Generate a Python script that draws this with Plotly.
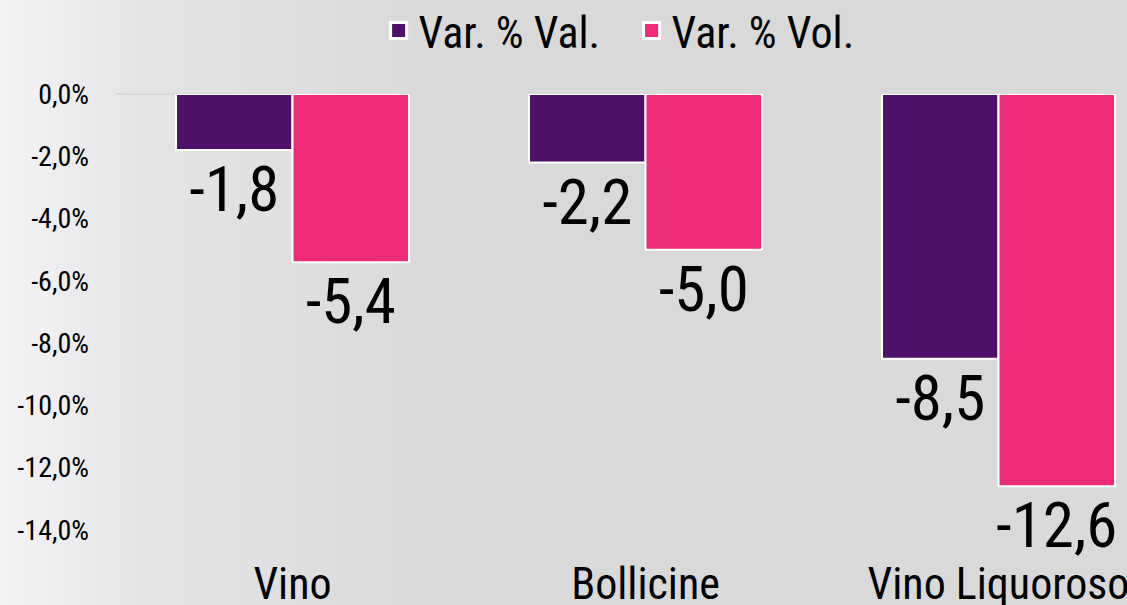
import base64
import plotly.graph_objects as go

# data
categories = ["Vino", "Bollicine", "Vino Liquoroso"]
var_val = [-1.8, -2.2, -8.5]
var_vol = [-5.4, -5.0, -12.6]
series_names = ["Var. % Val.", "Var. % Vol."]
y_tick_vals = [0, -2, -4, -6, -8, -10, -12, -14]
y_tick_text = ["0,0%", "-2,0%", "-4,0%", "-6,0%", "-8,0%", "-10,0%", "-12,0%", "-14,0%"]

PURPLE = "#4E106A"
PINK = "#EF2A7A"
FONT = "Roboto Condensed, Liberation Sans Narrow, Roboto, sans-serif"

W, H = 1127, 605
ML, MR, MT, MB = 116, 0, 94, 51
PW, PH = W - ML - MR, H - MT - MB
PX_PER_UNIT = 31.14  # vertical pixels per 1 percentage point
PX_PER_CAT = 353


def fmt(v):
    return f"{v:.1f}".replace(".", ",")


# soft left-to-right background gradient as an svg image
svg = (
    '<svg xmlns="http://www.w3.org/2000/svg" width="100" height="100" preserveAspectRatio="none">'
    '<defs><linearGradient id="g" x1="0" y1="0" x2="1" y2="0">'
    '<stop offset="0" stop-color="#f4f3f6"/>'
    '<stop offset="0.12" stop-color="#e5e4e7"/>'
    '<stop offset="0.4" stop-color="#d9d9d9"/>'
    '<stop offset="1" stop-color="#d9d9d9"/>'
    '</linearGradient></defs>'
    '<rect width="100" height="100" fill="url(#g)"/></svg>'
)
bg_src = "data:image/svg+xml;base64," + base64.b64encode(svg.encode()).decode()

fig = go.Figure()
for name, vals, color in [(series_names[0], var_val, PURPLE), (series_names[1], var_vol, PINK)]:
    fig.add_trace(go.Bar(
        x=categories,
        y=vals,
        name=name,
        showlegend=False,
        marker=dict(color=color, line=dict(color="white", width=2)),
        text=[fmt(v) for v in vals],
        textposition="outside",
        textfont=dict(family=FONT, size=63, color="black"),
        constraintext="none",
        cliponaxis=False,
    ))
    # legend-only entry with a bigger square swatch
    fig.add_trace(go.Scatter(
        x=[None], y=[None],
        mode="markers",
        name=name,
        marker=dict(symbol="square", size=22, color=color, line=dict(color="white", width=3)),
    ))

fig.update_layout(
    width=W,
    height=H,
    margin=dict(l=ML, r=MR, t=MT, b=MB, autoexpand=False),
    barmode="group",
    bargap=0.34,
    bargroupgap=0,
    paper_bgcolor="#d9d9d9",
    plot_bgcolor="rgba(0,0,0,0)",
    font=dict(family=FONT, color="black"),
    showlegend=True,
    legend=dict(
        orientation="h",
        x=0.51, xanchor="center",
        y=1 + (MT - 31) / PH, yanchor="middle",
        font=dict(size=44),
        bgcolor="rgba(0,0,0,0)",
        itemwidth=30,
        entrywidth=208,
        entrywidthmode="pixels",
    ),
    xaxis=dict(
        range=[-0.5, -0.5 + PW / PX_PER_CAT],
        showgrid=False,
        showline=False,
        tickfont=dict(size=44),
        ticks="",
        automargin=False,
    ),
    yaxis=dict(
        range=[-PH / PX_PER_UNIT, 0],
        tickvals=y_tick_vals,
        ticktext=y_tick_text,
        tickfont=dict(size=28),
        showgrid=False,
        zeroline=True,
        zerolinecolor="#d9d9d9",
        zerolinewidth=2,
        ticklabelstandoff=26,
        automargin=False,
    ),
    images=[dict(
        source=bg_src,
        xref="paper", yref="paper",
        x=-ML / PW, y=1 + MT / PH,
        sizex=W / PW, sizey=H / PH,
        xanchor="left", yanchor="top",
        sizing="stretch",
        layer="below",
    )],
)

fig.write_html(
    "out.html",
    config={"displayModeBar": False},
    post_script="document.body.style.margin='0';document.body.style.overflow='hidden';",
)
